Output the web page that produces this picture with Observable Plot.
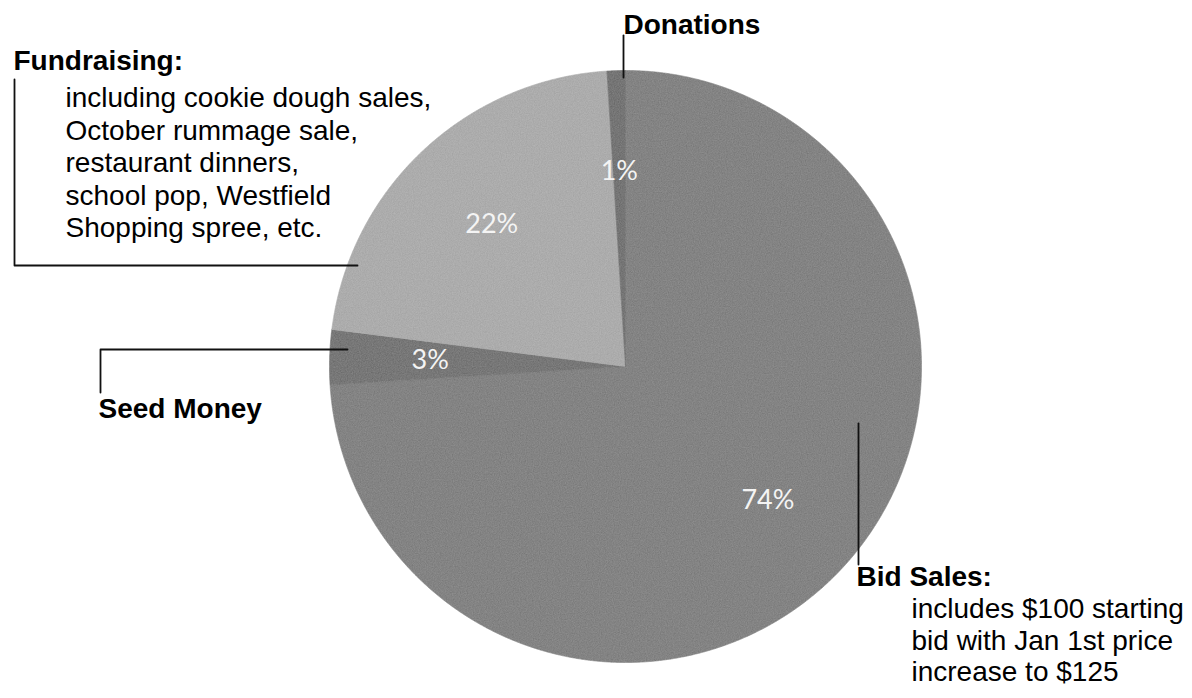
<!DOCTYPE html>
<html><head><meta charset="utf-8">
<script src="https://cdn.jsdelivr.net/npm/d3@7"></script>
<script src="https://cdn.jsdelivr.net/npm/@observablehq/plot@0.6"></script>
<style>body{margin:0;background:#fff}</style>
</head><body><div id="chart"></div>
<script>
// ---- data ----
const categories = ["Bid Sales", "Seed Money", "Fundraising", "Donations"];
const values = [74, 3, 22, 1];
const percentLabels = ["74%", "3%", "22%", "1%"];
const sliceColors = ["#7a7a7a", "#6a6a6a", "#aaaaaa", "#676767"];
const headings = ["Bid Sales:", "Seed Money", "Fundraising:", "Donations"];
const notes = [
  "includes $100 starting\nbid with Jan 1st price\nincrease to $125",
  "",
  "including cookie dough sales,\nOctober rummage sale,\nrestaurant dinners,\nschool pop, Westfield\nShopping spree, etc.",
  ""
];

// ---- layout ----
const W = 1192, H = 698;
const cx = 625, cy = 366, R = 296;
const headPos = [[856, 585], [98, 417], [13, 69], [623, 33]];
const notePos = [[911, 595], null, [65, 83.5], null];
const noteLineHeight = [1.13, null, 1.16, null];
const leaders = [
  [[858, 423], [858, 564]],
  [[100, 392], [100, 349], [347, 349]],
  [[14, 79], [14, 265], [357, 265]],
  [[623, 35], [623, 77]]
];

const arcs = d3.pie().sort(null).value(d => d)(values);
const slicePts = [];
arcs.forEach((a, i) => {
  const cat = categories[i];
  slicePts.push({cat, x: cx, y: cy});
  const n = Math.max(2, Math.ceil((a.endAngle - a.startAngle) / 0.004));
  for (let k = 0; k <= n; k++) {
    const t = a.startAngle + (a.endAngle - a.startAngle) * k / n;
    slicePts.push({cat, x: cx + R * Math.sin(t), y: cy - R * Math.cos(t)});
  }
  slicePts.push({cat, x: cx, y: cy});
});
const pctData = arcs.map((a, i) => {
  const m = (a.startAngle + a.endAngle) / 2;
  return {label: percentLabels[i], x: cx + 0.66 * R * Math.sin(m), y: cy - 0.66 * R * Math.cos(m)};
});
const headData = headings.map((h, i) => ({text: h, x: headPos[i][0], y: headPos[i][1]}));
const noteMarks = notes.map((t, i) => notePos[i] ?
  Plot.text([{text: t, x: notePos[i][0], y: notePos[i][1]}], {x: "x", y: "y", text: "text", fill: "#000", fontSize: 28, fontFamily: "Liberation Sans", textAnchor: "start", lineAnchor: "top", lineHeight: noteLineHeight[i]}) : null).filter(d => d);
const leaderData = leaders.flatMap((pts, i) => pts.map(p => ({id: i, x: p[0], y: p[1]})));

const plot = Plot.plot({
  width: W, height: H,
  margin: 0,
  x: {domain: [0, W], range: [0, W], axis: null},
  y: {domain: [0, H], range: [0, H], axis: null},
  color: {domain: categories, range: sliceColors},
  style: {background: "#fff"},
  marks: [
    Plot.line(slicePts, {x: "x", y: "y", z: "cat", fill: "cat", stroke: "cat", strokeWidth: 0.6, curve: "linear", className: "pie"}),
    Plot.text(pctData, {x: "x", y: "y", text: "label", fill: "#f4f4f4", fontSize: 27, fontFamily: "Lato", lineAnchor: "middle", textAnchor: "middle"}),
    Plot.line(leaderData, {x: "x", y: "y", z: "id", stroke: "#111", strokeWidth: 1.8}),
    Plot.text(headData, {x: "x", y: "y", text: "text", fill: "#000", fontSize: 28, fontWeight: "bold", fontFamily: "Liberation Sans", textAnchor: "start", lineAnchor: "bottom"}),
    ...noteMarks
  ]
});

// grain texture for the pie
const ns = "http://www.w3.org/2000/svg";
const defs = document.createElementNS(ns, "defs");
defs.innerHTML = `<filter id="grain" x="-2%" y="-2%" width="104%" height="104%">
  <feGaussianBlur in="SourceGraphic" stdDeviation="0.7" result="soft"/>
  <feTurbulence type="fractalNoise" baseFrequency="0.85" numOctaves="2" seed="4" result="noise"/>
  <feColorMatrix in="noise" type="matrix" values="1 0 0 0 0  1 0 0 0 0  1 0 0 0 0  0 0 0 0 0.12" result="gnoise"/>
  <feComposite in="gnoise" in2="soft" operator="in" result="clipped"/>
  <feMerge><feMergeNode in="soft"/><feMergeNode in="clipped"/></feMerge>
</filter>`;
plot.insertBefore(defs, plot.firstChild);
const pie = plot.querySelector("g.pie") || plot.querySelector("g[aria-label=line]");
if (pie) pie.setAttribute("filter", "url(#grain)");
document.getElementById("chart").appendChild(plot);
</script>
</body></html>
